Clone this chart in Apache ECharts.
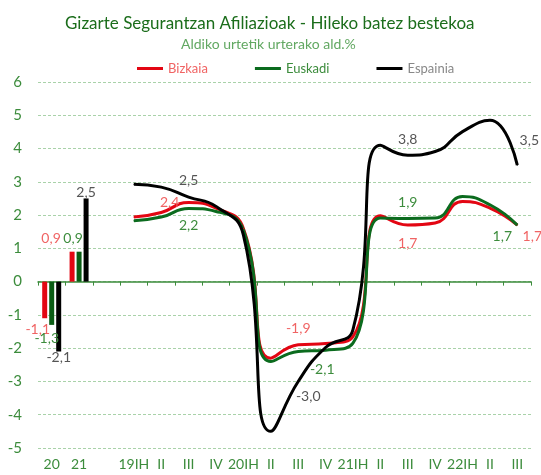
<!DOCTYPE html>
<html>
<head>
<meta charset="utf-8">
<script src="https://cdn.jsdelivr.net/npm/echarts@6/dist/echarts.min.js"></script>
<style>
  html, body { margin: 0; padding: 0; background: #fff; }
  #chart { width: 541px; height: 475px; }
</style>
</head>
<body>
<div id="chart"></div>
<script>
const categories = ['20', '21', '', '19IH', 'II', 'III', 'IV', '20IH', 'II', 'III', 'IV', '21IH', 'II', 'III', 'IV', '22IH', 'II', 'III'];
const yTicks = [-5, 6, 1]; // min, max, step

// urteko batez bestekoak (barrak)
const annualBizkaia = [-1.1, 0.9];
const annualEuskadi = [-1.3, 0.9];
const annualEspainia = [-2.1, 2.5];

// hiruhilekoak 19IH - 22III (lerroak)
const quarterBizkaia = [1.94, 2.08, 2.38, 2.21, 1.6, -2.3, -1.9, -1.86, -1.65, 1.98, 1.7, 1.76, 2.41, 2.21, 1.7];
const quarterEuskadi = [1.83, 1.94, 2.2, 2.11, 1.55, -2.4, -2.1, -2.06, -1.85, 1.91, 1.9, 1.91, 2.56, 2.31, 1.7];
const quarterEspainia = [2.93, 2.84, 2.54, 2.26, 1.4, -4.5, -3.0, -1.98, -1.44, 4.1, 3.8, 3.91, 4.51, 4.85, 3.5];

const RED = '#e30613', GREEN = '#0b6b1e', BLACK = '#000000';
const RED_TXT = '#f06464', GREEN_TXT = '#3c8c3c', BLACK_TXT = '#555555';
const FONT = 'Lato';

const fmt = p => (typeof p.value === 'number' ? p.value : p.value.value).toFixed(1).replace('.', ',');

// etiketen kokapena: [dx, dy] puntuarekiko
const redSpots = { 2: [-19, 0], 6: [0, -16], 10: [0, 18], 14: [15, 11] };
const greenSpots = { 2: [0, 17], 6: [24, 18], 10: [0, -16], 14: [-15, 11] };
const blackSpots = { 2: [0, -17], 6: [10, 15], 10: [0, -16], 14: [12, -25] };

function lineData(values, spots, color) {
  return [null, null, null].concat(values.map((v, i) => spots[i]
    ? { value: v, label: { show: true, position: 'inside', offset: spots[i], color: color } }
    : v));
}

function barData(values, offsets, color) {
  const out = values.map((v, i) => ({
    value: v,
    label: { show: true, position: 'inside', offset: offsets[i], color: color }
  }));
  while (out.length < categories.length) out.push(null);
  return out;
}

function lineSeries(name, values, spots, color, txt) {
  return {
    name: name,
    type: 'line',
    smooth: 0.5,
    symbol: 'circle',
    symbolSize: 1,
    itemStyle: { color: color },
    lineStyle: { color: color, width: 3 },
    label: { formatter: fmt, fontFamily: FONT, fontSize: 14 },
    data: lineData(values, spots, txt),
    z: 3
  };
}

function barSeries(name, values, offsets, color, txt) {
  return {
    name: name,
    type: 'bar',
    barWidth: 5,
    barGap: '40%',
    itemStyle: { color: color },
    label: { formatter: fmt, fontFamily: FONT, fontSize: 14 },
    data: barData(values, offsets, txt),
    z: 2
  };
}

const chart = echarts.init(document.getElementById('chart'));
chart.setOption({
  animation: false,
  title: [
    {
      text: 'Gizarte Segurantzan Afiliazioak - Hileko batez bestekoa',
      left: 60,
      top: 10,
      textStyle: { fontFamily: FONT, fontSize: 17, fontWeight: 'normal', color: '#1b6d1b' }
    },
    {
      text: 'Aldiko urtetik urterako ald.%',
      left: 176,
      top: 32,
      textStyle: { fontFamily: FONT, fontSize: 14, fontWeight: 'normal', color: '#62a862' }
    }
  ],
  legend: {
    top: 57,
    left: 132,
    icon: 'rect',
    itemWidth: 26,
    itemHeight: 3,
    itemGap: 47,
    textStyle: { fontFamily: FONT, fontSize: 13 },
    data: [
      { name: 'Bizkaia', textStyle: { color: RED_TXT } },
      { name: 'Euskadi', textStyle: { color: GREEN_TXT } },
      { name: 'Espainia', textStyle: { color: '#888888' } }
    ]
  },
  grid: { left: 38, right: 10, top: 82, bottom: 27 },
  xAxis: [
    {
      type: 'category',
      data: categories,
      position: 'bottom',
      axisLine: { show: false, onZero: false },
      axisTick: { show: false },
      axisLabel: { interval: 0, margin: 9, color: GREEN_TXT, fontFamily: FONT, fontSize: 14 }
    },
    {
      type: 'category',
      data: categories,
      position: 'top',
      axisLine: { show: true, onZero: true, lineStyle: { color: '#3c8c3c', width: 1.5 } },
      axisTick: { show: true, inside: true, length: 4, interval: 0, lineStyle: { color: '#3c8c3c' } },
      axisLabel: { show: false }
    }
  ],
  yAxis: {
    type: 'value',
    min: yTicks[0],
    max: yTicks[1],
    interval: yTicks[2],
    axisLine: { show: false },
    axisTick: { show: false },
    axisLabel: { color: GREEN_TXT, fontFamily: FONT, fontSize: 15, margin: 16 },
    splitLine: { lineStyle: { color: '#a9d2a9', type: [3, 2], width: 1 } }
  },
  series: [
    barSeries('Bizkaia urtea', annualBizkaia, [[-7, 30], [-21, -28]], RED, RED_TXT),
    barSeries('Euskadi urtea', annualEuskadi, [[-5, 35], [-6, -28]], '#0a5c14', GREEN_TXT),
    barSeries('Espainia urtea', annualEspainia, [[0, 41], [0, -48]], BLACK, BLACK_TXT),
    lineSeries('Bizkaia', quarterBizkaia, redSpots, RED, RED_TXT),
    lineSeries('Euskadi', quarterEuskadi, greenSpots, GREEN, GREEN_TXT),
    lineSeries('Espainia', quarterEspainia, blackSpots, BLACK, BLACK_TXT)
  ]
});
</script>
</body>
</html>
